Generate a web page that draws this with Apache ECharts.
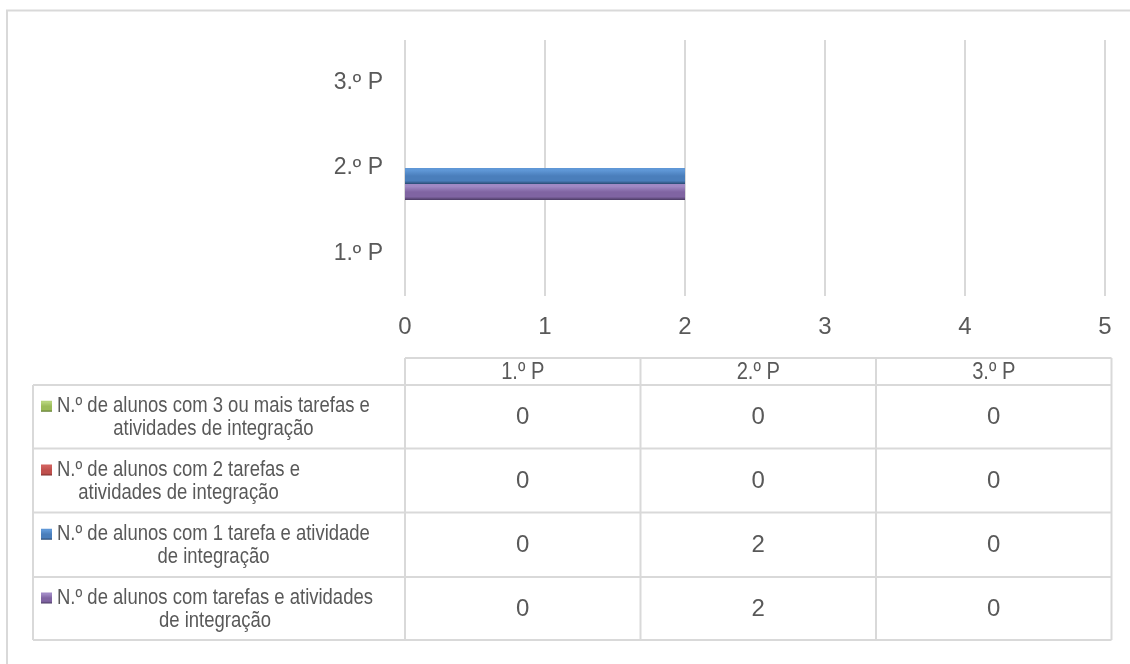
<!DOCTYPE html>
<html>
<head>
<meta charset="utf-8">
<script src="https://cdn.jsdelivr.net/npm/echarts@6/dist/echarts.min.js"></script>
<style>
html,body{margin:0;padding:0;background:#fff;}
#chart{width:1130px;height:664px;}
</style>
</head>
<body>
<div id="chart"></div>
<script>
const categories = ['1.º P', '2.º P', '3.º P'];
const xTicks = [0, 1, 2, 3, 4, 5];
const seriesNames = [
  'N.º de alunos com 3 ou mais tarefas e\natividades de integração',
  'N.º de alunos com 2 tarefas e\natividades de integração',
  'N.º de alunos com 1 tarefa e atividade\nde integração',
  'N.º de alunos com tarefas e atividades\nde integração'
];
const valsThreePlus = [0, 0, 0];
const valsTwo = [0, 0, 0];
const valsOne = [0, 2, 0];
const valsAny = [0, 2, 0];
const seriesValues = [valsThreePlus, valsTwo, valsOne, valsAny];
const colorsTop = ['#b5d37a', '#d0605d', '#5f97d6', '#a089c4'];
const colorsMid = ['#9bbb59', '#c0504d', '#4a7ebb', '#8064a2'];
const colorsBot = ['#5f7a30', '#7a2d2b', '#2a4a72', '#4a3a62'];

const FONT = '"Liberation Sans", Arial, sans-serif';
const TXT = '#595959';
const LINE = '#d9d9d9';

const chart = echarts.init(document.getElementById('chart'), null, {renderer: 'canvas'});

const gridLeft = 405, gridRightPx = 1105;
const tblLeft = 33, tblColX = [405, 640.5, 876, 1111.5];
const headTop = 358, headBot = 385;
const rowTops = [385, 448.5, 512.5, 577, 640];

const LEG_FS = 22, LEG_SX = 0.84;
const HEAD_FS = 24, HEAD_SX = 0.84;
const NUM_FS = 24;

const mctx = document.createElement('canvas').getContext('2d');
function measure(t, fs) { mctx.font = fs + 'px ' + FONT; return mctx.measureText(t).width; }

function grad(i) {
  return new echarts.graphic.LinearGradient(0, 0, 0, 1, [
    {offset: 0, color: colorsTop[i]},
    {offset: 0.15, color: colorsTop[i]},
    {offset: 0.5, color: colorsMid[i]},
    {offset: 0.8, color: colorsMid[i]},
    {offset: 1, color: colorsBot[i]}
  ]);
}

const series = seriesNames.map((name, i) => ({
  name: name,
  type: 'bar',
  data: seriesValues[i],
  barWidth: 16,
  barGap: '0%',
  itemStyle: {color: grad(i), borderWidth: 0},
  silent: true
}));

const graphics = [];
graphics.push({type: 'rect', shape: {x: 7, y: 10.5, width: 1140, height: 700}, style: {fill: 'none', stroke: LINE, lineWidth: 2}, silent: true});
graphics.push({type: 'line', shape: {x1: tblColX[0], y1: headTop, x2: tblColX[3], y2: headTop}, style: {stroke: LINE, lineWidth: 2}});
rowTops.forEach(y => {
  graphics.push({type: 'line', shape: {x1: tblLeft, y1: y, x2: tblColX[3], y2: y}, style: {stroke: LINE, lineWidth: 2}});
});
graphics.push({type: 'line', shape: {x1: tblLeft, y1: rowTops[0], x2: tblLeft, y2: rowTops[4]}, style: {stroke: LINE, lineWidth: 2}});
tblColX.forEach(x => {
  graphics.push({type: 'line', shape: {x1: x, y1: headTop, x2: x, y2: rowTops[4]}, style: {stroke: LINE, lineWidth: 2}});
});
categories.forEach((c, j) => {
  graphics.push({type: 'text', x: (tblColX[j] + tblColX[j + 1]) / 2, y: (headTop + headBot) / 2 + 1, scaleX: HEAD_SX,
    style: {text: c, fill: TXT, font: HEAD_FS + 'px ' + FONT, textAlign: 'center', textVerticalAlign: 'middle'}});
});
seriesNames.forEach((name, i) => {
  const cy = (rowTops[i] + rowTops[i + 1]) / 2;
  const lines = name.split('\n');
  const w = Math.max.apply(null, lines.map(l => measure(l, LEG_FS))) * LEG_SX;
  const textLeft = 57;
  graphics.push({type: 'text', x: textLeft + w / 2, y: cy + 1, scaleX: LEG_SX,
    style: {
      text: name,
      fill: TXT, font: LEG_FS + 'px ' + FONT, textAlign: 'center', textVerticalAlign: 'middle',
      lineHeight: 23
    }});
  graphics.push({type: 'rect', shape: {x: 41, y: cy - 16, width: 11, height: 11}, style: {fill: grad(i)}});
  seriesValues[i].forEach((v, j) => {
    graphics.push({type: 'text', x: (tblColX[j] + tblColX[j + 1]) / 2, y: cy + 1,
      style: {text: String(v), fill: TXT, font: NUM_FS + 'px ' + FONT, textAlign: 'center', textVerticalAlign: 'middle'}});
  });
});

chart.setOption({
  animation: false,
  backgroundColor: '#fff',
  textStyle: {fontFamily: FONT},
  grid: {left: gridLeft, right: 1130 - gridRightPx, top: 40, bottom: 664 - 296, containLabel: false},
  xAxis: {
    type: 'value', min: xTicks[0], max: xTicks[xTicks.length - 1], interval: 1,
    axisLine: {show: false}, axisTick: {show: false},
    axisLabel: {color: TXT, fontSize: 24, fontFamily: FONT, margin: 19},
    splitLine: {show: true, lineStyle: {color: LINE, width: 2}}
  },
  yAxis: {
    type: 'category', data: categories,
    axisLine: {show: false}, axisTick: {show: false},
    axisLabel: {color: TXT, fontSize: 23, fontFamily: FONT, margin: 22},
    splitLine: {show: false}
  },
  series: series,
  graphic: graphics
});
</script>
</body>
</html>
